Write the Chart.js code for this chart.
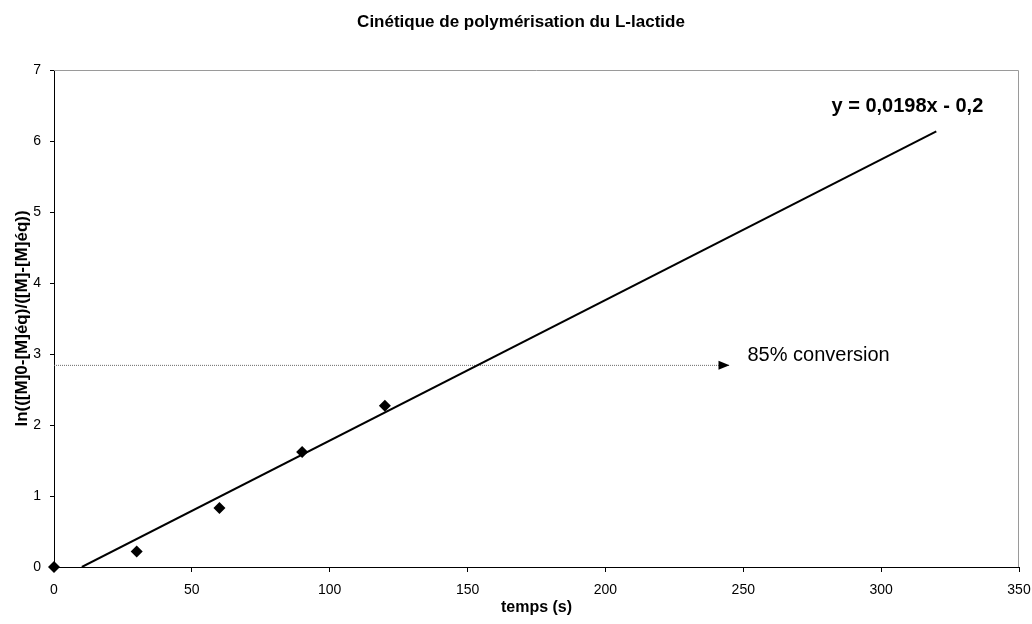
<!DOCTYPE html>
<html><head><meta charset="utf-8">
<script src="https://cdn.jsdelivr.net/npm/chart.js@4/dist/chart.umd.min.js"></script>
<style>html,body{margin:0;padding:0;background:#fff}canvas{display:block}</style>
</head><body>
<canvas id="c" width="1032" height="624"></canvas>
<script>
// ---- data ----
const chartTitle = 'Cinétique de polymérisation du L-lactide';
const xTitle = 'temps (s)';
const yTitle = 'ln(([M]0-[M]éq)/([M]-[M]éq))';
const times = [0, 30, 60, 90, 120];
const lnRatio = [0, 0.22, 0.83, 1.62, 2.27];
const trendX = [10.1, 320];
const trendY = [0, 6.136];
const trendLabel = 'y = 0,0198x - 0,2';
const trendLabelPos = [282, 6.48];
const convX = [0, 245];
const convY = [2.84, 2.84];
const convLabel = '85% conversion';
const convLabelPos = [251.5, 2.98];
const xRange = [0, 350], xStep = 50;
const yRange = [0, 7], yStep = 1;

const FONT = '"Liberation Sans", Arial, Helvetica, sans-serif';

const toPts = (xs, ys) => xs.map((x, i) => ({x, y: ys[i]}));

const decor = {
  id: 'decor',
  afterDatasetsDraw(chart) {
    const {ctx, chartArea: a, scales: {x, y}} = chart;
    ctx.save();
    // top & right plot border (gray)
    ctx.strokeStyle = '#9a9a9a';
    ctx.lineWidth = 1;
    ctx.beginPath();
    ctx.moveTo(a.left, a.top + 0.5);
    ctx.lineTo(a.right - 0.5, a.top + 0.5);
    ctx.lineTo(a.right - 0.5, a.bottom);
    ctx.stroke();
    // arrow head at end of conversion line
    const tx = x.getPixelForValue(convX[1]);
    const ty = y.getPixelForValue(convY[1]);
    ctx.fillStyle = '#000';
    ctx.beginPath();
    ctx.moveTo(tx, ty);
    ctx.lineTo(tx - 11, ty - 4.5);
    ctx.lineTo(tx - 11, ty + 4.5);
    ctx.closePath();
    ctx.fill();
    // conversion label
    ctx.font = '20px ' + FONT;
    ctx.textBaseline = 'middle';
    ctx.textAlign = 'left';
    ctx.fillText(convLabel, x.getPixelForValue(convLabelPos[0]), y.getPixelForValue(convLabelPos[1]));
    // trend equation
    ctx.font = 'bold 20px ' + FONT;
    ctx.fillText(trendLabel, x.getPixelForValue(trendLabelPos[0]), y.getPixelForValue(trendLabelPos[1]));
    // title
    ctx.font = 'bold 17px ' + FONT;
    ctx.textAlign = 'center';
    ctx.textBaseline = 'alphabetic';
    ctx.fillText(chartTitle, 521, 27);
    ctx.restore();
  }
};

new Chart(document.getElementById('c'), {
  type: 'scatter',
  data: {
    datasets: [
      {
        label: 'conversion',
        data: toPts(convX, convY),
        showLine: true,
        borderColor: '#6a6a6a',
        borderWidth: 1,
        borderDash: [1, 1],
        pointRadius: 0,
        order: 3
      },
      {
        label: 'trend',
        data: toPts(trendX, trendY),
        showLine: true,
        borderColor: '#000',
        borderWidth: 2,
        pointRadius: 0,
        order: 2
      },
      {
        label: 'ln',
        data: toPts(times, lnRatio),
        showLine: false,
        pointStyle: 'rectRot',
        pointRadius: 6,
        pointHoverRadius: 6,
        backgroundColor: '#000',
        borderColor: '#000',
        borderWidth: 0,
        clip: false,
        order: 1
      }
    ]
  },
  options: {
    responsive: false,
    animation: false,
    devicePixelRatio: 1,
    layout: {padding: {top: 70, right: 13, bottom: 0, left: 0}},
    plugins: {legend: {display: false}, tooltip: {enabled: false}, title: {display: false}},
    scales: {
      x: {
        type: 'linear',
        min: xRange[0], max: xRange[1],
        ticks: {stepSize: xStep, color: '#000', font: {family: FONT, size: 14}, padding: 10, maxRotation: 0},
        grid: {display: true, drawOnChartArea: false, drawTicks: true, tickLength: 5, color: '#000'},
        border: {display: true, color: '#000', width: 1},
        title: {display: true, text: xTitle, color: '#000', font: {family: FONT, size: 16, weight: 'bold'}, padding: {top: 0, bottom: 7}},
        afterFit(s) { s.height = 57; s.paddingLeft = 0; s.paddingRight = 0; }
      },
      y: {
        type: 'linear',
        min: yRange[0], max: yRange[1],
        ticks: {stepSize: yStep, color: '#000', font: {family: FONT, size: 14}, padding: 9},
        grid: {display: true, drawOnChartArea: false, drawTicks: true, tickLength: 4, color: '#000'},
        border: {display: true, color: '#000', width: 1},
        title: {display: true, text: yTitle, color: '#000', font: {family: FONT, size: 17, weight: 'bold'}, padding: {top: 12, bottom: 0}},
        afterFit(s) { s.width = 54; s.paddingTop = 0; s.paddingBottom = 0; }
      }
    }
  },
  plugins: [decor]
});
</script>
</body></html>
